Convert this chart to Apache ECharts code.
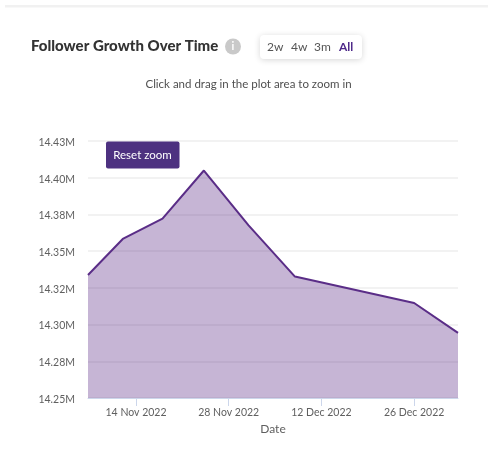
<!DOCTYPE html>
<html>
<head>
<meta charset="utf-8">
<title>Follower Growth Over Time</title>
<style>
  html, body { margin: 0; padding: 0; background: #fff; }
  #chart { width: 488px; height: 470px; }
</style>
<script src="https://cdn.jsdelivr.net/npm/echarts@6/dist/echarts.min.js"></script>
</head>
<body>
<div id="chart"></div>
<script>
// Follower counts in millions, sampled on the dates below
const dates = ['2022-11-06T18:00', '2022-11-12T00:00', '2022-11-18T00:00', '2022-11-24T06:00',
               '2022-12-01T00:00', '2022-12-08T00:00', '2022-12-26T00:00', '2023-01-01T15:00'];
const followers = [14.3338, 14.3583, 14.3722, 14.4049, 14.3675, 14.3327, 14.3147, 14.2943];

const yTicks = [14.25, 14.275, 14.3, 14.325, 14.35, 14.375, 14.4, 14.425];
const yTickLabels = ['14.25M', '14.28M', '14.30M', '14.32M', '14.35M', '14.38M', '14.40M', '14.43M'];
const xTickDates = ['2022-11-14', '2022-11-28', '2022-12-12', '2022-12-26'];
const xTickLabels = ['14 Nov 2022', '28 Nov 2022', '12 Dec 2022', '26 Dec 2022'];
const rangeOptions = ['2w', '4w', '3m', 'All'];
const rangeOffsets = [267, 291, 314, 339];

const FONT = 'Lato, "Noto Sans", sans-serif';
const toTime = (s) => new Date(s + (s.length === 10 ? 'T00:00:00Z' : ':00Z')).getTime();
const xTickTimes = xTickDates.map(toTime);

const chart = echarts.init(document.getElementById('chart'), null, { renderer: 'canvas' });

chart.setOption({
  animation: false,
  backgroundColor: '#ffffff',
  grid: { left: 88, right: 30, top: 141, bottom: 72, containLabel: false },
  // A numeric axis over timestamps lets the ticks sit on the fortnightly dates
  xAxis: {
    type: 'value',
    min: toTime(dates[0]),
    max: toTime(dates[dates.length - 1]),
    name: 'Date',
    nameLocation: 'middle',
    nameGap: 23,
    nameTextStyle: { color: '#5f5f5f', fontFamily: FONT, fontSize: 12 },
    axisLine: { show: true, lineStyle: { color: '#ccd6eb', width: 1 } },
    axisTick: { show: true, length: 8, customValues: xTickTimes, lineStyle: { color: '#ccd6eb' } },
    axisLabel: {
      color: '#5f5f5f', fontFamily: FONT, fontSize: 10.5, margin: 9,
      customValues: xTickTimes,
      hideOverlap: false,
      formatter: (v) => xTickLabels[xTickTimes.indexOf(v)] || ''
    },
    splitLine: { show: false }
  },
  yAxis: {
    type: 'value',
    min: 14.25,
    max: 14.425,
    interval: 0.025,
    axisLine: { show: false },
    axisTick: { show: false },
    axisLabel: {
      margin: 13,
      // the rich style carries the small downward nudge relative to the gridline
      rich: { t: { color: '#5f5f5f', fontFamily: FONT, fontSize: 10.5, padding: [3, 0, 0, 0] } },
      formatter: (v) => '{t|' + (yTickLabels[yTicks.findIndex((t) => Math.abs(t - v) < 1e-6)] || '') + '}'
    },
    splitLine: { show: true, lineStyle: { color: '#eeeeee', width: 1.5 } }
  },
  series: [{
    type: 'line',
    data: dates.map((d, i) => [toTime(d), followers[i]]),
    showSymbol: false,
    smooth: false,
    lineStyle: { color: '#5a2d87', width: 2 },
    areaStyle: { color: '#5b2a86', opacity: 0.35 },
    z: 3
  }],
  graphic: [
    // rule along the top of the card
    { type: 'rect', z: 10, shape: { x: 5, y: 5, width: 483, height: 2.5 }, style: { fill: '#f1f1f1' } },
    // heading
    { type: 'text', z: 10, x: 31, y: 46.5,
      style: { text: 'Follower Growth Over Time', fill: '#333333', font: '900 15px ' + FONT,
               align: 'left', verticalAlign: 'middle' } },
    // info badge
    { type: 'circle', z: 10, shape: { cx: 233, cy: 46.5, r: 8 }, style: { fill: '#c9c9c9' } },
    { type: 'text', z: 11, x: 233, y: 46.5,
      style: { text: 'i', fill: '#ffffff', font: 'bold 11px ' + FONT, align: 'center', verticalAlign: 'middle' } },
    // range selector
    { type: 'rect', z: 10, shape: { x: 260, y: 35, width: 102, height: 24, r: 4 },
      style: { fill: '#ffffff', shadowBlur: 6, shadowColor: 'rgba(0,0,0,0.16)', shadowOffsetY: 1 } },
    ...rangeOptions.map((label, i) => ({
      type: 'text', z: 11, x: rangeOffsets[i], y: 47,
      style: {
        text: label,
        fill: label === 'All' ? '#4f2a8a' : '#555555',
        font: (label === 'All' ? 'bold ' : '') + '12px ' + FONT,
        align: 'left', verticalAlign: 'middle'
      }
    })),
    // zoom hint
    { type: 'text', z: 10, x: 248.5, y: 84,
      style: { text: 'Click and drag in the plot area to zoom in', fill: '#4f4f4f',
               font: '11.5px ' + FONT, align: 'center', verticalAlign: 'middle' } },
    // reset button
    { type: 'rect', z: 10, shape: { x: 106, y: 141.5, width: 73.5, height: 27, r: 2 }, style: { fill: '#4d3180' } },
    { type: 'text', z: 11, x: 142.5, y: 155,
      style: { text: 'Reset zoom', fill: '#ffffff', font: '11.5px ' + FONT, align: 'center', verticalAlign: 'middle' } }
  ]
});
</script>
</body>
</html>
